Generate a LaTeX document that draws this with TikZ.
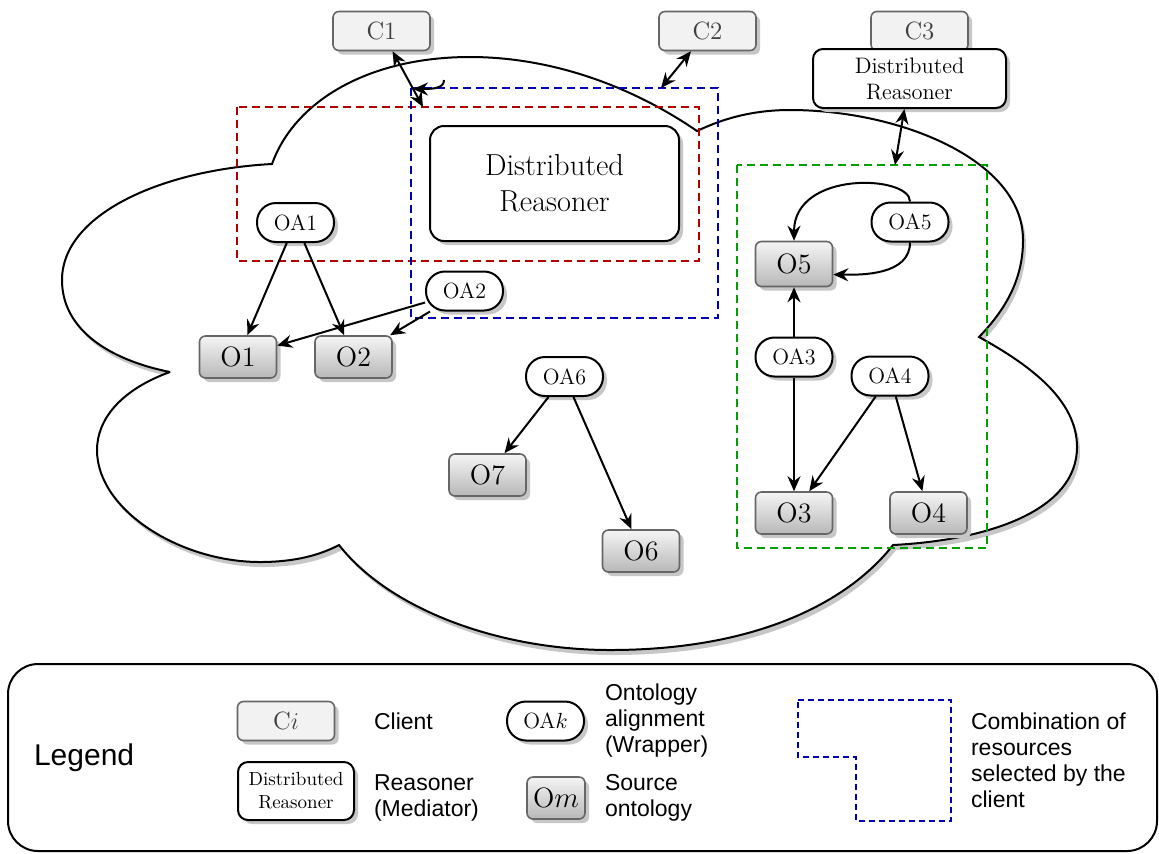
\documentclass[tikz,border=0pt]{standalone}
\usepackage{fontspec}
\setsansfont{Liberation Sans}
\usetikzlibrary{arrows.meta,shadows}
\definecolor{grpred}{RGB}{178,0,0}
\definecolor{grpblue}{RGB}{0,0,178}
\definecolor{grpgreen}{RGB}{0,160,0}
\newcommand{\shadowColor}[0]{black!22}
\newcommand{\legendFont}[0]{\fontsize{11.5}{13}\selectfont\sffamily}

\begin{document}
\begin{tikzpicture}[x=0.5pt, y=-0.5pt, >={Stealth[length=7.5pt,width=6.5pt,inset=2.5pt]}]
  \tikzset{
    shadowed/.style={drop shadow={shadow xshift=2pt, shadow yshift=-2pt, fill=\shadowColor, opacity=1}},
    client/.style={shadowed, draw=black!60, line width=0.8pt, fill=black!5, text=black!75,
      rounded corners=3pt, minimum width=48.5pt, minimum height=19.5pt, inner sep=0pt,
      font=\fontsize{12.5}{14}\selectfont},
    reasoner/.style={shadowed, draw, line width=1pt, fill=white, rounded corners=5pt,
      align=center, inner sep=0pt},
    wrapper/.style={shadowed, draw, line width=1pt, fill=white, rounded corners=9.5pt,
      minimum width=38.5pt, minimum height=19.5pt, inner sep=0pt, font=\fontsize{11}{13}\selectfont},
    ontobox/.style={shadowed, draw=black!60, line width=0.8pt, top color=black!4, bottom color=black!28,
      rounded corners=3pt, minimum width=38.5pt, minimum height=21pt, inner sep=0pt,
      font=\fontsize{14}{16}\selectfont},
    linkarrow/.style={->, line width=1pt},
    botharrow/.style={<->, line width=1pt},
    groupbox/.style={dash pattern=on 4pt off 2.5pt, line width=1pt}
  }
  \useasboundingbox (0,0) rectangle (1159,853);

  \draw[line width=1pt, fill=white, miter limit=3,
    drop shadow={shadow xshift=1.5pt, shadow yshift=-2.5pt, fill=\shadowColor, opacity=1}]
    (272,164) .. controls (160,170) and (62,215) .. (62,280)
    .. controls (62,330) and (110,360) .. (170,372)
    .. controls (120,390) and (97,420) .. (97,450)
    .. controls (97,510) and (180,562) .. (260,562)
    .. controls (295,562) and (320,555) .. (339,545)
    .. controls (390,610) and (500,650) .. (610,650)
    .. controls (760,650) and (850,600) .. (893,545)
    .. controls (990,540) and (1077,510) .. (1077,447)
    .. controls (1077,400) and (1030,365) .. (979,337)
    .. controls (1005,310) and (1023,280) .. (1023,240)
    .. controls (1023,160) and (900,110) .. (790,110)
    .. controls (750,110) and (720,120) .. (697,131)
    .. controls (630,85) and (550,57) .. (470,57)
    .. controls (370,57) and (295,100) .. (272,164) -- cycle;

  \draw[groupbox, draw=grpred] (237,107) rectangle (699,261);
  \draw[groupbox, draw=grpblue] (411,88) rectangle (718,318);
  \draw[groupbox, draw=grpgreen] (737,165) rectangle (987,548);

  \node[client] (C-1) at (381.5,31) {C1};
  \node[client] (C-2) at (707.5,31) {C2};
  \node[client] (C-3) at (919.5,31) {C3};
  \node[reasoner, minimum width=96.5pt, minimum height=29.5pt, font=\fontsize{11.2}{13}\selectfont]
    (DR-3) at (909.5,78.5) {Distributed\\Reasoner};
  \node[reasoner, rounded corners=7pt, minimum width=124.5pt, minimum height=57.5pt,
    font=\fontsize{15.2}{18}\selectfont] (DR-1) at (554.5,183.5) {Distributed\\Reasoner};

  \node[wrapper] (OA-1) at (295.5,222.5) {OA1};
  \node[wrapper] (OA-2) at (464.5,291) {OA2};
  \node[wrapper] (OA-3) at (794,357) {OA3};
  \node[wrapper] (OA-4) at (890,376) {OA4};
  \node[wrapper] (OA-5) at (910,222) {OA5};
  \node[wrapper] (OA-6) at (564.5,376.5) {OA6};

  \node[ontobox] (O-1) at (238,357) {O1};
  \node[ontobox] (O-2) at (353.5,357) {O2};
  \node[ontobox] (O-3) at (794,513) {O3};
  \node[ontobox] (O-4) at (928.5,513) {O4};
  \node[ontobox, minimum height=22.5pt] (O-5) at (794,264) {O5};
  \node[ontobox] (O-6) at (641,551) {O6};
  \node[ontobox] (O-7) at (487.5,475) {O7};

  \draw[linkarrow] (OA-1) -- (O-1);
  \draw[linkarrow] (OA-1) -- (O-2);
  \draw[linkarrow] (OA-2) -- (O-1);
  \draw[linkarrow] (OA-2) -- (O-2);
  \draw[linkarrow] (OA-3) -- (O-5);
  \draw[linkarrow] (OA-3) -- (O-3);
  \draw[linkarrow] (OA-4) -- (O-3);
  \draw[linkarrow] (OA-4) -- (O-4);
  \draw[linkarrow] (OA-5.north) .. controls (910,175) and (794,170) .. (O-5.north);
  \draw[linkarrow] (OA-5.south) .. controls (910,275) and (862,275) .. (O-5.-15);
  \draw[linkarrow] (OA-6) -- (O-7);
  \draw[linkarrow] (OA-6) -- (O-6);

  \coordinate (red-top) at (423,107);
  \coordinate (blue-top) at (661,88);
  \coordinate (green-top) at (895,165);
  \coordinate (hook-start) at (444,80);
  \coordinate (blue-corner) at (413,89);
  \draw[botharrow] (C-1) -- (red-top);
  \draw[botharrow] (C-2) -- (blue-top);
  \draw[botharrow] (DR-3) -- (green-top);
  \draw[linkarrow] (hook-start) .. controls (444,88) and (434,89) .. (blue-corner);

  \draw[line width=1pt, rounded corners=15pt] (8,664) rectangle (1157,851);
  \node[anchor=west, font=\fontsize{15}{18}\selectfont\sffamily] (legend-title) at (27,758) {Legend};
  \node[client] (C-i) at (286,721) {C$i$};
  \node[anchor=west, font=\legendFont] (client-text) at (367,721) {Client};
  \node[reasoner, minimum width=58pt, minimum height=29pt, font=\fontsize{9.5}{11.5}\selectfont]
    (DR-i) at (296,791) {Distributed\\Reasoner};
  \node[anchor=west, align=left, font=\legendFont] (reasoner-text) at (367,798) {Reasoner\\(Mediator)};
  \node[wrapper] (OA-k) at (545.5,721) {OA$k$};
  \node[anchor=west, align=left, font=\legendFont] (wrapper-text) at (598,721) {Ontology\\alignment\\(Wrapper)};
  \node[ontobox, minimum width=29pt] (O-m) at (556,798) {O$m$};
  \node[anchor=west, align=left, font=\legendFont] (source-text) at (598,798) {Source\\ontology};
  \draw[draw=grpblue, line width=0.7pt, dash pattern=on 3pt off 2pt]
    (798,700) -- (951,700) -- (951,821) -- (856,821) -- (856,757) -- (798,757) -- cycle;
  \node[anchor=west, align=left, font=\legendFont] (combination-text) at (964,760)
    {Combination of\\resources\\selected by the\\client};
\end{tikzpicture}
\end{document}
